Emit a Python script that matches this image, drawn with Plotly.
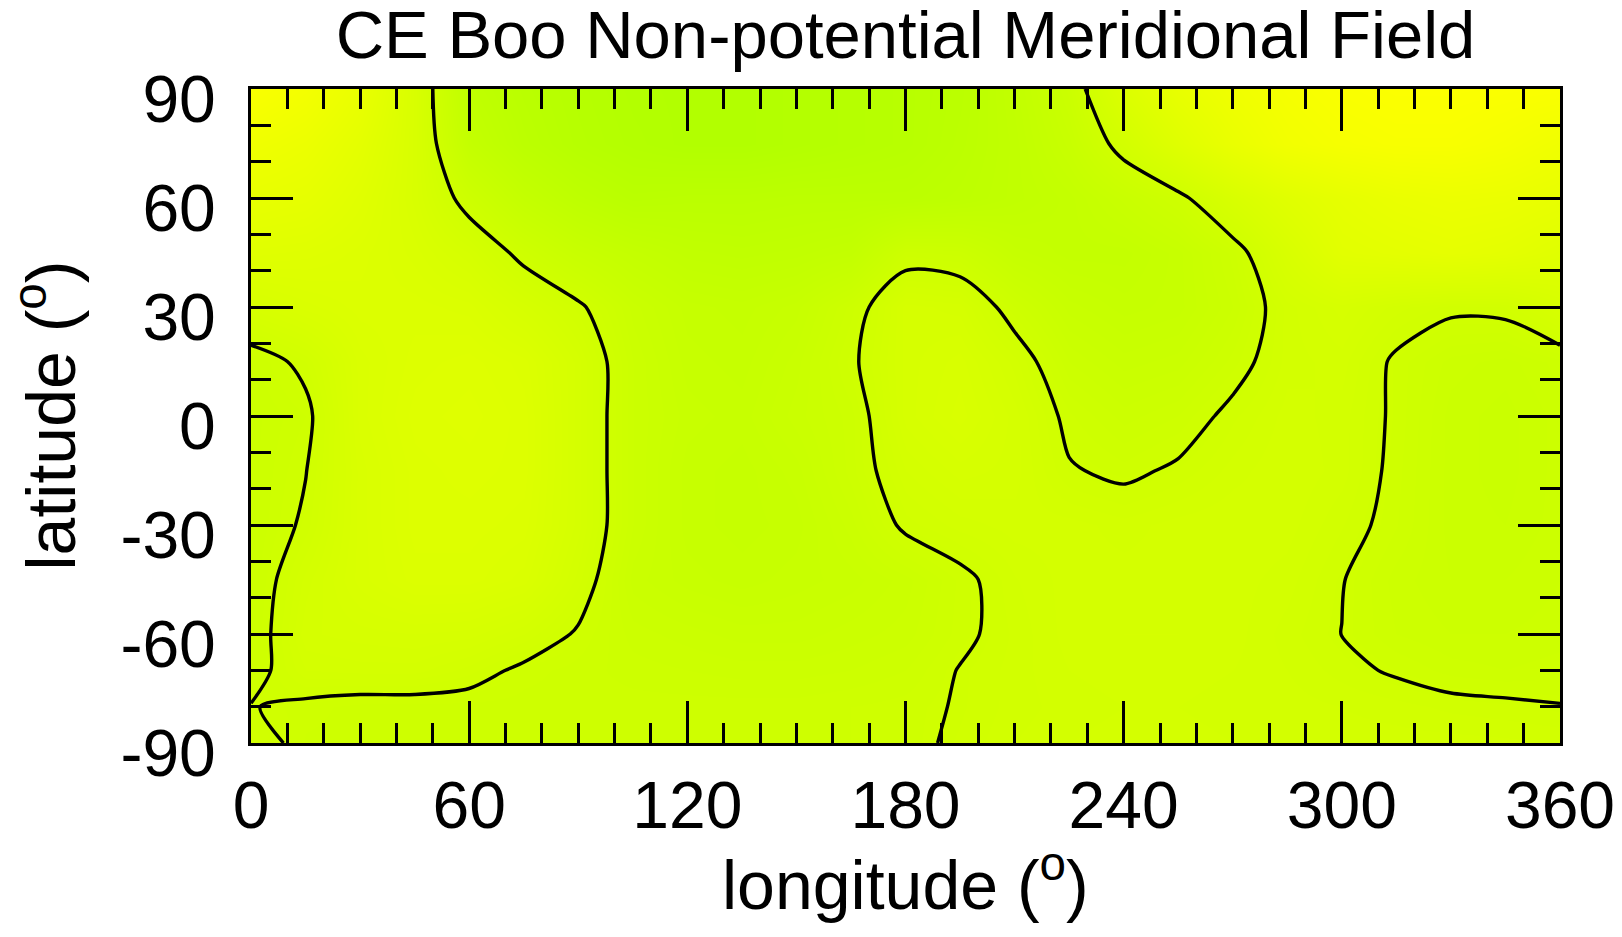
import plotly.graph_objects as go

# Longitude grid (degrees) and latitude grid (degrees)
lon = [0, 15, 30, 45, 60, 75, 90, 105, 120, 135, 150, 165, 180,
       195, 210, 225, 240, 255, 270, 285, 300, 315, 330, 345, 360]
lat = [-90, -80, -70, -60, -45, -30, -15, 0, 15, 30, 45, 60, 75, 90]

# Meridional field values along each latitude row
b_lat_m90 = [0.025, -0.017, -0.02, -0.02, -0.02, -0.02, -0.02, -0.02, -0.02, -0.02, -0.02, -0.015, -0.01,
             0.007, 0.025, 0.035, 0.04, 0.04, 0.035, 0.035, 0.03, 0.03, 0.03, 0.028, 0.025]
b_lat_m80 = [0.002, -0.01, -0.02, -0.02, -0.02, -0.02, -0.02, -0.02, -0.02, -0.02, -0.02, -0.015, -0.01,
             0.003, 0.02, 0.03, 0.035, 0.035, 0.03, 0.03, 0.025, 0.02, 0.012, 0.008, 0.002]
b_lat_m70 = [-0.02, 0.035, 0.04, 0.04, 0.02, -0.01, -0.02, -0.03, -0.035, -0.04, -0.04, -0.035, -0.025,
             0.002, 0.02, 0.035, 0.04, 0.04, 0.035, 0.025, 0.01, -0.005, -0.02, -0.025, -0.02]
b_lat_m60 = [-0.03, 0.053, 0.06, 0.065, 0.06, 0.035, -0.006, -0.04, -0.05, -0.06, -0.06, -0.05, -0.04,
             -0.01, 0.018, 0.04, 0.045, 0.045, 0.04, 0.02, -0.0005, -0.025, -0.035, -0.035, -0.03]
b_lat_m45 = [-0.035, 0.04, 0.09, 0.12, 0.12, 0.10, 0.03, -0.06, -0.08, -0.09, -0.08, -0.07, -0.05,
             -0.012, 0.024, 0.04, 0.04, 0.04, 0.04, 0.03, 0.002, -0.03, -0.045, -0.045, -0.035]
b_lat_m30 = [-0.04, 0.009, 0.09, 0.13, 0.13, 0.12, 0.05, -0.045, -0.09, -0.10, -0.09, -0.05, 0.01,
             0.03, 0.04, 0.04, 0.03, 0.04, 0.045, 0.04, 0.016, -0.014, -0.05, -0.055, -0.04]
b_lat_m15 = [-0.04, -0.002, 0.09, 0.13, 0.14, 0.13, 0.05, -0.045, -0.09, -0.10, -0.08, -0.03, 0.035,
             0.06, 0.05, 0.004, -0.01, 0.007, 0.03, 0.045, 0.03, -0.011, -0.05, -0.06, -0.04]
b_lat_0 = [-0.04, -0.015, 0.10, 0.14, 0.15, 0.13, 0.05, -0.045, -0.08, -0.09, -0.06, -0.03, 0.06,
           0.09, 0.05, -0.0125, -0.04, -0.025, 0.0125, 0.04, 0.03, -0.0075, -0.05, -0.06, -0.04]
b_lat_15 = [-0.03, 0.015, 0.10, 0.13, 0.14, 0.12, 0.05, -0.045, -0.09, -0.10, -0.07, -0.01, 0.06,
            0.08, 0.03, -0.045, -0.07, -0.06, -0.02, 0.03, 0.04, -0.008, -0.04, -0.05, -0.03]
b_lat_30 = [0.07, 0.10, 0.12, 0.12, 0.11, 0.06, 0.01, -0.06, -0.10, -0.11, -0.09, -0.03, 0.06,
            0.05, -0.025, -0.08, -0.10, -0.09, -0.045, 0.03, 0.06, 0.03, 0.01, 0.015, 0.07]
b_lat_45 = [0.16, 0.15, 0.13, 0.10, 0.055, -0.02, -0.08, -0.12, -0.15, -0.16, -0.15, -0.13, -0.03,
            -0.04, -0.10, -0.12, -0.12, -0.09, -0.03, 0.08, 0.18, 0.20, 0.22, 0.20, 0.16]
b_lat_60 = [0.24, 0.22, 0.16, 0.08, -0.03, -0.12, -0.18, -0.22, -0.21, -0.21, -0.20, -0.20, -0.20,
            -0.18, -0.15, -0.12, -0.07, -0.02, 0.08, 0.16, 0.22, 0.26, 0.28, 0.27, 0.24]
b_lat_75 = [0.32, 0.28, 0.20, 0.08, -0.12, -0.20, -0.25, -0.28, -0.30, -0.30, -0.28, -0.26, -0.24,
            -0.20, -0.15, -0.08, 0.03, 0.15, 0.26, 0.34, 0.38, 0.40, 0.40, 0.37, 0.32]
b_lat_90 = [0.42, 0.36, 0.26, 0.08, -0.16, -0.22, -0.26, -0.29, -0.30, -0.30, -0.28, -0.26, -0.24,
            -0.21, -0.14, -0.05, 0.12, 0.24, 0.32, 0.38, 0.42, 0.44, 0.44, 0.43, 0.42]

x_ticks = [0, 60, 120, 180, 240, 300, 360]
y_ticks = [-90, -60, -30, 0, 30, 60, 90]

z = [b_lat_m90, b_lat_m80, b_lat_m70, b_lat_m60, b_lat_m45, b_lat_m30, b_lat_m15,
     b_lat_0, b_lat_15, b_lat_30, b_lat_45, b_lat_60, b_lat_75, b_lat_90]

FONT = "Liberation Sans, Arial, Helvetica, sans-serif"

# target plot-area box in page pixels; the page body adds an 8 px offset
OFF = 8
L, R, T, B = 251, 1560, 89, 743
PW, PH = R - L, B - T

fig = go.Figure()
fig.add_trace(go.Heatmap(
    x=lon, y=lat, z=z, zsmooth="best",
    colorscale=[[0, "#b0ff00"], [1, "#ffff00"]],
    zmin=-0.32, zmax=0.47, showscale=False, hoverinfo="skip"))
fig.add_trace(go.Contour(
    x=lon, y=lat, z=z, autocontour=False,
    contours=dict(start=0, end=0, size=0.1, coloring="none"),
    line=dict(color="black", width=3.4, smoothing=0.8),
    showscale=False, hoverinfo="skip"))

axis_common = dict(
    ticks="inside", ticklen=42, tickwidth=3, tickcolor="black",
    showline=True, linewidth=3, linecolor="black", mirror="ticks",
    showgrid=False, zeroline=False, automargin=False,
    tickfont=dict(family=FONT, size=66, color="black"),
    minor=dict(dtick=10, ticks="inside", ticklen=20, tickwidth=3,
               tickcolor="black", showgrid=False),
)

fig.update_layout(
    width=1622, height=937,
    margin=dict(l=L - OFF, r=1622 - R + OFF, t=T - OFF, b=937 - B + OFF,
                autoexpand=False),
    paper_bgcolor="white", plot_bgcolor="white",
    font=dict(family=FONT, color="black"),
    title=dict(text="CE Boo Non-potential Meridional Field",
               font=dict(family=FONT, size=67, color="black"),
               x=0.5, xref="paper", xanchor="center",
               y=1 - 27 / 937, yref="container", yanchor="middle"),
    xaxis=dict(range=[0, 360], tickmode="array", tickvals=x_ticks,
               ticktext=[str(v) for v in x_ticks], ticklabelstandoff=3,
               **axis_common),
    yaxis=dict(range=[-90, 90], tickmode="array", tickvals=y_ticks,
               ticktext=[str(v) for v in y_ticks], ticklabelstandoff=19,
               ticklabelshift=10, **axis_common),
    annotations=[
        dict(text="longitude (<sup>o</sup>)", x=0.5, y=(B - 879.6) / PH,
             xref="paper", yref="paper", xanchor="center", yanchor="middle",
             showarrow=False, font=dict(family=FONT, size=68, color="black")),
        dict(text="latitude (<sup>o</sup>)", x=(46 - L) / PW, y=(B - 415.5) / PH,
             xref="paper", yref="paper", xanchor="center", yanchor="middle",
             textangle=-90, showarrow=False,
             font=dict(family=FONT, size=68, color="black")),
    ],
)

fig.write_html("out.html")
